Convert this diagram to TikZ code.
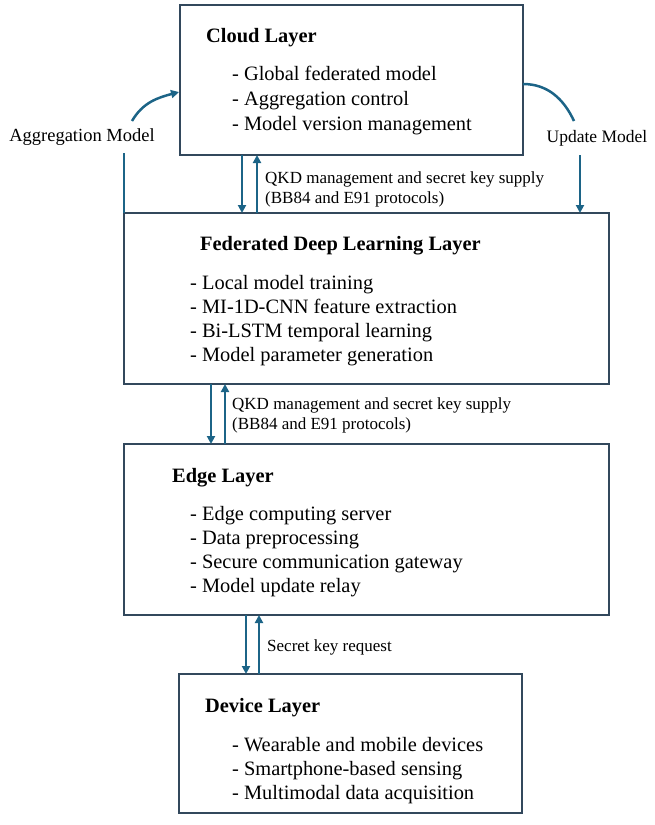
\documentclass[tikz,border=0pt]{standalone}
\usepackage{fontspec}
\setmainfont{Liberation Serif}
\usetikzlibrary{arrows.meta, positioning, calc}

\definecolor{boxline}{RGB}{50,72,92}
\definecolor{arrowblue}{RGB}{28,100,135}

\tikzset{
    layerbox/.style={draw=boxline, line width=2pt, inner sep=0pt, outer sep=0pt},
    title/.style={anchor=base west, inner sep=0pt, font=\fontsize{20.4}{24}\selectfont\bfseries},
    item/.style={anchor=base west, inner sep=0pt, font=\fontsize{20.4}{24}\selectfont},
    label/.style={anchor=base west, inner sep=0pt, align=left, font=\fontsize{17}{20}\selectfont},
    flow/.style={draw=arrowblue, line width=2.5pt, -{Triangle[length=8pt,width=8pt]}},
    plain/.style={draw=arrowblue, line width=2.5pt}
}

\begin{document}
\begin{tikzpicture}[x=1pt, y=-1pt]
    \useasboundingbox (0,0) rectangle (655,825);

    % Define the layers
    \node[layerbox, minimum width=343pt, minimum height=150pt] (cloud) at (351.5,80) {};
    \node[layerbox, minimum width=485pt, minimum height=171pt] (fdl) at (366.5,298.5) {};
    \node[layerbox, minimum width=485pt, minimum height=171pt] (edge) at (366.5,529.5) {};
    \node[layerbox, minimum width=343pt, minimum height=139pt] (device) at (350.5,743.5) {};

    % Layer texts
    \node[title] (cloudT) at (206,42) {Cloud Layer};
    \foreach \t [count=\i] in {Global federated model, Aggregation control, Model version management}
        \node[item] (cloud\i) at (232,{80+(\i-1)*25}) {- \t};

    \node[title] (fdlT) at (200,250) {Federated Deep Learning Layer};
    \foreach \t [count=\i] in {Local model training, MI-1D-CNN feature extraction, Bi-LSTM temporal learning, Model parameter generation}
        \node[item] (fdl\i) at (190,{289+(\i-1)*24}) {- \t};

    \node[title] (edgeT) at (172,482) {Edge Layer};
    \foreach \t [count=\i] in {Edge computing server, Data preprocessing, Secure communication gateway, Model update relay}
        \node[item] (edge\i) at (190,{520+(\i-1)*24}) {- \t};

    \node[title] (deviceT) at (205,712) {Device Layer};
    \foreach \t [count=\i] in {Wearable and mobile devices, Smartphone-based sensing, Multimodal data acquisition}
        \node[item] (device\i) at (232,{751+(\i-1)*24}) {- \t};

    % Arrow positions
    \coordinate (a1) at (242,0);
    \coordinate (a2) at (257,0);
    \coordinate (b1) at (211,0);
    \coordinate (b2) at (225,0);
    \coordinate (c1) at (246,0);
    \coordinate (c2) at (259,0);
    \coordinate (u1) at (580,0);

    % Draw arrows between layers
    \draw[flow] (cloud.south -| a1) -- (fdl.north -| a1);
    \draw[flow] (fdl.north -| a2) -- (cloud.south -| a2);
    \draw[flow] (fdl.south -| b1) -- (edge.north -| b1);
    \draw[flow] (edge.north -| b2) -- (fdl.south -| b2);
    \draw[flow] (edge.south -| c1) -- (device.north -| c1);
    \draw[flow] (device.north -| c2) -- (edge.south -| c2);

    % Arrow labels
    \node[label] (qkd1) at (265,203) {QKD management and secret key supply\\(BB84 and E91 protocols)};
    \node[label] (qkd2) at (232,429) {QKD management and secret key supply\\(BB84 and E91 protocols)};
    \node[label] (req) at (267,651) {Secret key request};

    % Aggregation and update
    \node[item, anchor=base, font=\fontsize{18.5}{22}\selectfont] (agg) at (82,141) {Aggregation Model};
    \node[item, anchor=base, font=\fontsize{17.5}{22}\selectfont] (upd) at (597,142) {Update Model};
    \coordinate (aggTop) at (124,153);
    \coordinate (aggStart) at (132,121);
    \coordinate (aggEnd) at (179,92);
    \coordinate (updEnd) at (574,121);
    \coordinate (updTop) at (580,155);

    \draw[plain] (fdl.north west) -- (aggTop);
    \draw[flow] (aggStart) to[out=60, in=195] (aggEnd);
    \draw[plain] (cloud.east |- 0,84) to[out=0, in=115] (updEnd);
    \draw[flow] (updTop) -- (fdl.north -| u1);
\end{tikzpicture}
\end{document}
